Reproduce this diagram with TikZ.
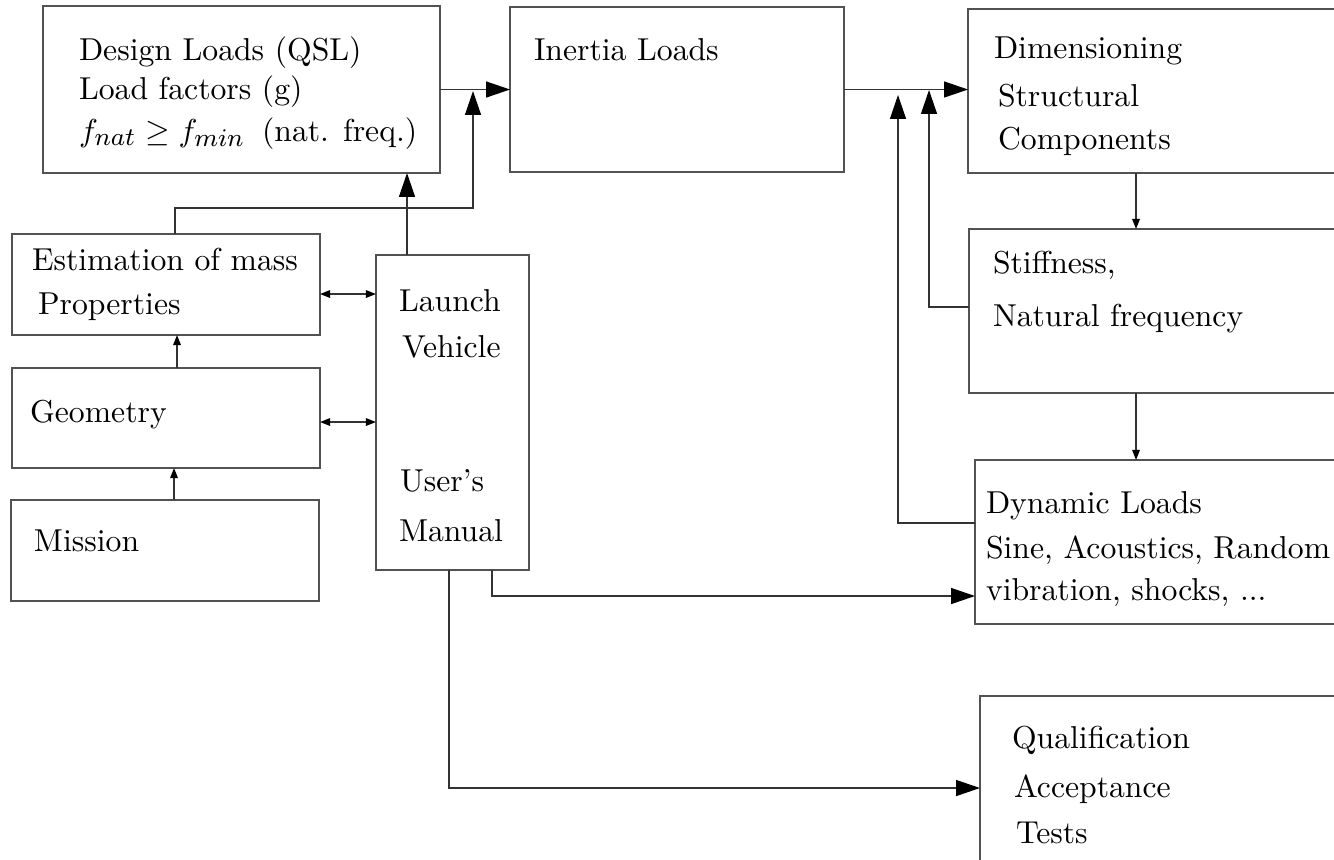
\documentclass[tikz,border=0pt]{standalone}
\usetikzlibrary{arrows.meta}
\DeclareMathSizes{10}{10}{8}{6}
\newcommand\mkbox[5]{\node[box, minimum width={(#4-#2)*0.3155pt}, minimum height={(#5-#3)*0.3155pt}] (#1) at ({(#2+#4)/2},{(#3+#5)/2}) {};}
\tikzset{
  box/.style={draw=black!68, line width=0.55pt, rectangle, inner sep=0pt, outer sep=0pt},
  txt/.style={inner sep=0pt, outer sep=0pt, anchor=base west, font=\fontsize{10}{12}\selectfont, text=black},
  conn/.style={draw=black!80, line width=0.45pt},
  bigarrow/.style={conn, -{Triangle[length=7.5pt,width=5pt,color=black]}},
  smallarrow/.style={conn, -{Triangle[length=3.2pt,width=2.4pt,color=black]}},
  dblarrow/.style={conn, {Triangle[length=3.2pt,width=2.4pt,color=black]}-{Triangle[length=3.2pt,width=2.4pt,color=black]}}
}
\begin{document}
\begin{tikzpicture}[x=0.3155pt, y=-0.3155pt]
\useasboundingbox (0,0) rectangle (1334,859);
\clip (0,0) rectangle (1334,859);
\fill[white] (0,0) rectangle (1334,859);

% boxes
\mkbox{dl}{43}{6}{440}{173}
\mkbox{in}{510}{7}{844}{172}
\mkbox{dim}{968}{9}{1350}{173}
\mkbox{stf}{969}{229}{1350}{393}
\mkbox{est}{12}{234}{320}{335}
\mkbox{geo}{12}{368}{320}{468}
\mkbox{lv}{376}{255}{529}{570}
\mkbox{mis}{11}{500}{319}{601}
\mkbox{dyn}{975}{460}{1350}{624}
\mkbox{qual}{980}{696}{1350}{880}

% texts
\node[txt] (dl1) at (79,60) {Design Loads (QSL)};
\node[txt] (dl2) at (79,99) {Load factors (g)};
\node[txt] (dl3) at (79,141) {$f_{nat} \geq f_{min}$\hspace{2pt} (nat. freq.)};
\node[txt] (in1) at (534,60) {Inertia Loads};
\node[txt] (dim1) at (994,58) {Dimensioning};
\node[txt] (dim2) at (998,106) {Structural};
\node[txt] (dim3) at (998,149) {Components};
\node[txt] (stf1) at (993,273) {Stiffness,};
\node[txt] (stf2) at (993,326) {Natural frequency};
\node[txt] (est1) at (32,270) {Estimation of mass};
\node[txt] (est2) at (38,314) {Properties};
\node[txt] (geo1) at (30,422) {Geometry};
\node[txt] (mis1) at (34,551) {Mission};
\node[txt] (lv1) at (399,311) {Launch};
\node[txt] (lv2) at (402,357) {Vehicle};
\node[txt] (lv3) at (400,491) {User's};
\node[txt] (lv4) at (399,541) {Manual};
\node[txt] (dyn1) at (986,513) {Dynamic Loads};
\node[txt] (dyn2) at (986,558) {Sine, Acoustics, Random};
\node[txt] (dyn3) at (986,600) {vibration, shocks, ...};
\node[txt] (q1) at (1012,748) {Qualification};
\node[txt] (q2) at (1014,797) {Acceptance};
\node[txt] (q3) at (1016,843) {Tests};

% helper coordinates
\coordinate (j1) at (473,91);
\coordinate (j3) at (929,90);
\coordinate (j4) at (898,95);
\coordinate (cx) at (1136,0);
\coordinate (gx) at (177,0);
\coordinate (mx) at (174,0);
\coordinate (ey) at (0,294);
\coordinate (gy) at (0,422);
\coordinate (lvx) at (407,0);
\coordinate (b1) at (492,0);
\coordinate (b2) at (449,0);
\coordinate (ty1) at (0,596);
\coordinate (ty2) at (0,788);
\coordinate (sy) at (0,307);
\coordinate (dy) at (0,523);

% connectors
\draw[bigarrow] (dl.east) -- (in.west);
\draw[bigarrow] (in.east) -- (in.east -| dim.west);
\draw[bigarrow] ([xshift=163*0.3155pt]est.north west) -- ++(0,-26) -| (j1);
\draw[bigarrow] (lv.north -| lvx) -- (dl.south -| lvx);
\draw[bigarrow] (stf.west |- sy) -| (j3);
\draw[bigarrow] (dyn.west |- dy) -| (j4);
\draw[smallarrow] (dim.south -| cx) -- (stf.north -| cx);
\draw[smallarrow] (stf.south -| cx) -- (dyn.north -| cx);
\draw[smallarrow] (geo.north -| gx) -- (est.south -| gx);
\draw[smallarrow] (mis.north -| mx) -- (geo.south -| mx);
\draw[dblarrow] (est.east |- ey) -- (lv.west |- ey);
\draw[dblarrow] (geo.east |- gy) -- (lv.west |- gy);
\draw[bigarrow] (lv.south -| b1) |- (dyn.west |- ty1);
\draw[bigarrow] (lv.south -| b2) |- (qual.west |- ty2);
\end{tikzpicture}
\end{document}
